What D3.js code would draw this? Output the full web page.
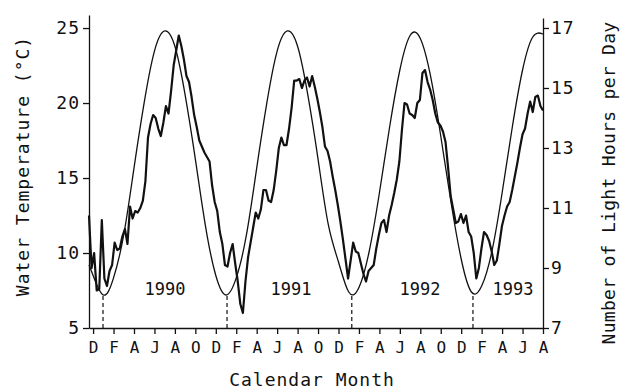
<!DOCTYPE html>
<html>
<head>
<meta charset="utf-8">
<script src="https://cdn.jsdelivr.net/npm/d3@7"></script>
<style>
body{margin:0;background:#fff;}
text{font-family:"DejaVu Sans Mono",monospace;fill:#111;}
</style>
</head>
<body>
<div id="chart"></div>
<script>
// month index 0 = December 1989
var tickMonths = d3.range(0, 45, 2);
var tickLabels = ["D","F","A","J","A","O","D","F","A","J","A","O","D","F","A","J","A","O","D","F","A","J","A"];
var tempTicks = [5,10,15,20,25];
var lightTicks = [7,9,11,13,15,17];

// light hours, roughly at the start of each month
var lightMonths = [-0.4,0,1,2,3,4,5,6,7,8,9,10,11,12,13,14,15,16,17,18,19,20,21,22,23,24,25,26,27,28,29,30,31,32,33,34,35,36,37,38,39,40,41,42,43,44];
var lightHours = [9.1,8.75,8.1,8.67,10.11,12.33,14.52,16.23,16.9,16.39,14.77,12.63,10.38,
  8.75,8.1,8.67,10.11,12.33,14.52,16.23,16.9,16.39,14.77,12.63,10.45,
  9.2,8.2,8.35,9.55,11.5,13.7,15.6,16.75,16.65,15.4,13.4,11.2,
  9.3,8.2,8.4,9.55,11.5,13.7,15.6,16.7,16.8];

// water temperature, evenly spaced from tempStart to tempEnd (about weekly)
var tempStart = -0.4, tempEnd = 44;
var tempValues = [
  12.5,9.0,10.0,7.5,7.6,12.2,8.3,7.8,8.8,9.2,
  10.7,10.2,10.3,11.1,11.6,10.6,13.1,12.3,12.8,12.7,
  13.0,13.5,14.8,17.7,18.6,19.2,19.0,18.3,17.8,18.7,
  19.8,19.3,20.8,22.5,23.5,24.5,23.8,22.9,21.8,21.4,
  20.4,19.2,18.4,17.5,17.1,16.7,16.4,16.1,14.5,13.4,
  12.8,11.4,10.6,9.2,9.1,10.0,10.6,9.3,8.1,6.6,
  6.0,8.1,9.7,10.7,11.7,12.7,12.3,12.9,14.2,14.2,
  13.5,13.4,14.2,15.5,17.0,17.7,17.2,17.2,18.3,19.7,
  21.5,21.5,21.6,21.0,21.5,21.7,21.1,21.8,21.1,20.3,
  19.4,18.4,17.1,16.8,16.1,15.1,14.2,13.2,12.1,10.9,
  9.6,8.3,9.5,10.7,10.1,10.0,9.3,8.6,8.1,8.8,
  9.0,9.2,10.3,11.2,12.0,12.2,11.4,12.5,13.2,14.0,
  14.9,16.1,18.2,20.0,19.9,19.3,19.2,19.0,20.0,20.2,
  22.0,22.2,21.4,20.9,20.2,19.3,18.7,18.5,18.1,17.4,
  15.7,13.8,12.9,12.0,12.1,12.6,12.0,12.5,11.4,11.1,
  10.0,8.3,9.0,10.3,11.4,11.2,10.8,10.1,9.2,9.5,
  10.6,11.8,12.5,13.1,13.4,14.2,15.1,16.0,17.0,17.9,
  18.3,19.3,20.1,19.4,20.4,20.5,19.8,19.5
];

var winterMonths = [0.97, 13.1, 25.3, 37.15];
var yearNames = ["1990","1991","1992","1993"];
var yearMonths = [7.03, 19.35, 31.97, 41.07];

var width = 620, height = 390;
var svg = d3.select("#chart").append("svg")
  .attr("width", width).attr("height", height)
  .style("background", "#fff");

var x = d3.scaleLinear().domain([-0.4, 44]).range([89, 543]);
var yT = d3.scaleLinear().domain([5, 25.87]).range([328, 15]);
var yL = d3.scaleLinear().domain([7, 17.333]).range([328, 18]);

// axes
var gx = svg.append("g").attr("transform", "translate(0," + yT(5) + ")")
  .call(d3.axisBottom(x).tickValues(tickMonths)
    .tickFormat(function(d, i){ return tickLabels[i]; })
    .tickSize(6).tickSizeOuter(0).tickPadding(8));
gx.selectAll("text").style("font-size", "16px");

var gl = svg.append("g").attr("transform", "translate(" + x(-0.4) + ",0)")
  .call(d3.axisLeft(yT).tickValues(tempTicks).tickSize(6).tickSizeOuter(0).tickPadding(3));
gl.selectAll("text").style("font-size", "18px").style("letter-spacing", "1px");

var gr = svg.append("g").attr("transform", "translate(" + x(44) + ",0)")
  .call(d3.axisRight(yL).tickValues(lightTicks).tickSize(6).tickSizeOuter(0).tickPadding(2));
gr.selectAll("text").style("font-size", "18px").style("letter-spacing", "1px");

svg.selectAll(".domain, .tick line").attr("stroke", "#111").attr("stroke-width", 1.3);

// dashed markers at the light minimum
var lightMin = d3.min(lightHours);
svg.selectAll(".winter").data(winterMonths).enter().append("line")
  .attr("class", "winter")
  .attr("x1", function(d){ return x(d); }).attr("x2", function(d){ return x(d); })
  .attr("y1", yT(5)).attr("y2", yL(lightMin))
  .attr("stroke", "#111").attr("stroke-width", 1.2)
  .attr("stroke-dasharray", "4,3");

// light hours curve
var lightLine = d3.line()
  .x(function(d, i){ return x(lightMonths[i]); })
  .y(function(d){ return yL(d); })
  .curve(d3.curveNatural);
svg.append("path").datum(lightHours)
  .attr("d", lightLine)
  .attr("fill", "none").attr("stroke", "#111").attr("stroke-width", 1.3);

// water temperature
var step = (tempEnd - tempStart) / (tempValues.length - 1);
var tempLine = d3.line()
  .x(function(d, i){ return x(tempStart + i * step); })
  .y(function(d){ return yT(d); });
svg.append("path").datum(tempValues)
  .attr("d", tempLine)
  .attr("fill", "none").attr("stroke", "#111").attr("stroke-width", 2.2)
  .attr("stroke-linejoin", "round");

// year labels
svg.selectAll(".year").data(yearNames).enter().append("text")
  .attr("class", "year")
  .attr("x", function(d, i){ return x(yearMonths[i]); })
  .attr("y", yT(7.2))
  .attr("text-anchor", "middle")
  .style("font-size", "17px")
  .text(function(d){ return d; });

// titles
svg.append("text")
  .attr("transform", "translate(312,386)")
  .attr("text-anchor", "middle")
  .style("font-size", "18px").style("letter-spacing", "1px")
  .text("Calendar Month");

svg.append("text")
  .attr("transform", "translate(29,166) rotate(-90)")
  .attr("text-anchor", "middle")
  .style("font-size", "18px").style("letter-spacing", "1px")
  .text("Water Temperature (°C)");

svg.append("text")
  .attr("transform", "translate(615,183) rotate(-90)")
  .attr("text-anchor", "middle")
  .style("font-size", "18px").style("letter-spacing", "0.3px")
  .text("Number of Light Hours per Day");
</script>
</body>
</html>
